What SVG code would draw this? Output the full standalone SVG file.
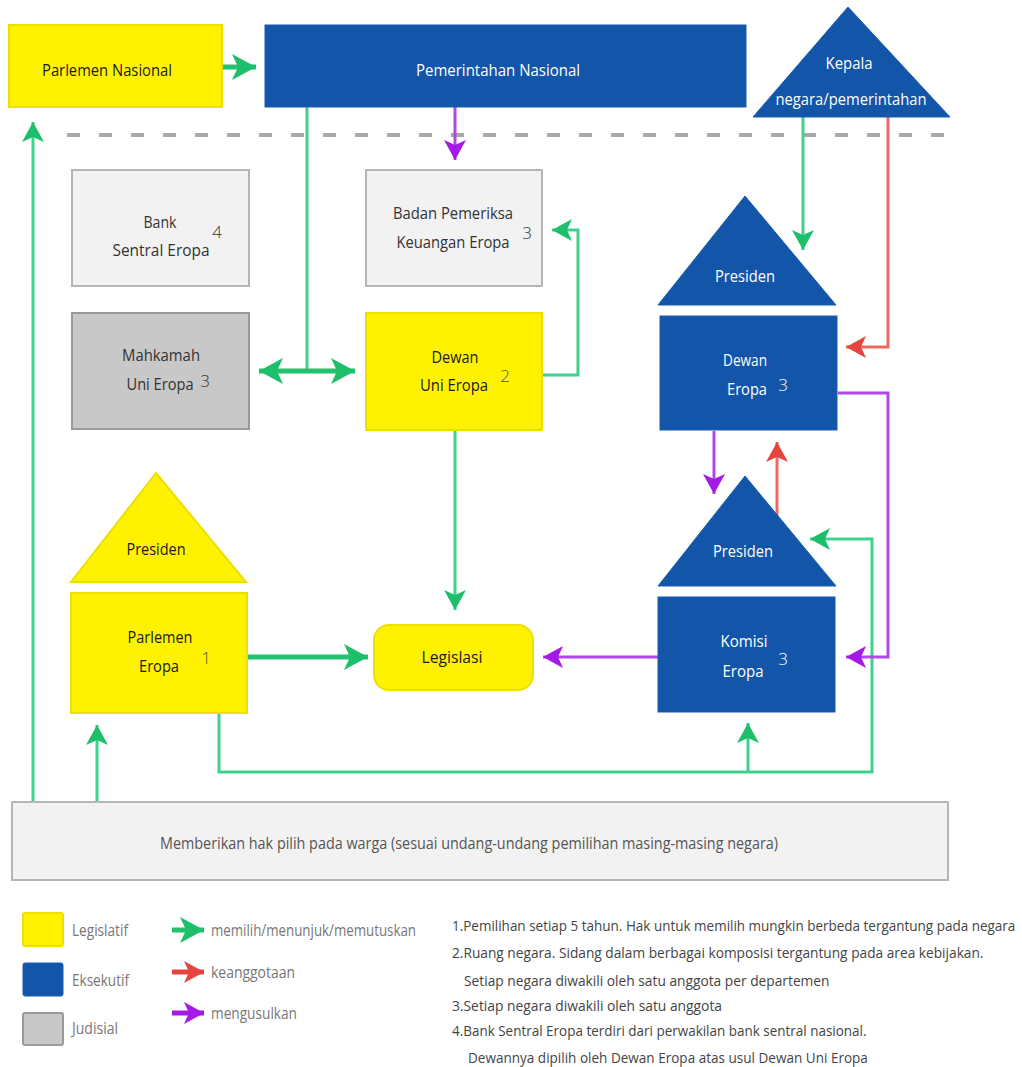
<svg xmlns="http://www.w3.org/2000/svg" width="1022" height="1067" viewBox="0 0 1022 1067">
<defs>
<style>
text{font-family:"Open Sans","Liberation Sans",sans-serif;text-anchor:middle}
.yel{fill:#fff200;stroke:#ece000;stroke-width:2}
.blu{fill:#1355a8;stroke:#1a5cb0;stroke-width:1}
.lgt{fill:#f2f2f2;stroke:#b5b5b5;stroke-width:2}
.jud{fill:#c8c8c8;stroke:#9a9a9a;stroke-width:2}
.tk{fill:#1a1a1a;font-size:16px}
.tw{fill:#ffffff;font-size:16px}
.tg{fill:#333;font-size:16px}
.sup{font-size:17px;font-weight:300}
.g{fill:none;stroke:#3fd18d;stroke-width:3}
.gt{fill:none;stroke:#22c16f;stroke-width:5}
.r{fill:none;stroke:#ec6a62;stroke-width:3}
.p{fill:none;stroke:#b048e8;stroke-width:3}
.leg{fill:#777;font-size:16px;text-anchor:start}
.note{fill:#444;font-size:15px;text-anchor:start}
</style>
<marker id="ag" markerUnits="userSpaceOnUse" markerWidth="22" markerHeight="22" refX="20" refY="11" orient="auto"><path d="M0,0 L20,11 L0,22 L5,11 z" fill="#1dbf6b"/></marker>
<marker id="agb" markerUnits="userSpaceOnUse" markerWidth="26" markerHeight="26" refX="24" refY="13" orient="auto"><path d="M0,0 L24,13 L0,26 L6,13 z" fill="#1dbf6b"/></marker>
<marker id="agbs" markerUnits="userSpaceOnUse" markerWidth="26" markerHeight="26" refX="24" refY="13" orient="auto-start-reverse"><path d="M0,0 L24,13 L0,26 L6,13 z" fill="#1dbf6b"/></marker>
<marker id="ar" markerUnits="userSpaceOnUse" markerWidth="22" markerHeight="22" refX="20" refY="11" orient="auto"><path d="M0,0 L20,11 L0,22 L5,11 z" fill="#e5453e"/></marker>
<marker id="ap" markerUnits="userSpaceOnUse" markerWidth="22" markerHeight="22" refX="20" refY="11" orient="auto"><path d="M0,0 L20,11 L0,22 L5,11 z" fill="#a41ae6"/></marker>
</defs>
<rect width="1022" height="1067" fill="#ffffff"/>

<line x1="67" y1="135" x2="948" y2="135" stroke="#a8a8a8" stroke-width="4" stroke-dasharray="13 19"/>

<g id="connectors">
<line class="gt" x1="223" y1="67" x2="256" y2="67" marker-end="url(#agb)"/>
<line class="p" x1="455" y1="107" x2="455" y2="160" marker-end="url(#ap)"/>
<polyline class="g" points="307,107 307,371"/>
<line class="gt" x1="259" y1="371" x2="355" y2="371" marker-start="url(#agbs)" marker-end="url(#agb)"/>
<polyline class="g" points="543,375 578,375 578,230 552,230" marker-end="url(#ag)"/>
<line class="g" x1="455" y1="430" x2="455" y2="610" marker-end="url(#ag)"/>
<line class="gt" x1="247" y1="657" x2="368" y2="657" marker-end="url(#agb)"/>
<line class="p" x1="658" y1="657" x2="543" y2="657" marker-end="url(#ap)"/>
<polyline class="g" points="219,713 219,772 872,772 872,539 810,539" marker-end="url(#ag)"/>
<line class="g" x1="748" y1="772" x2="748" y2="723" marker-end="url(#ag)"/>
<line class="g" x1="97" y1="801" x2="97" y2="725" marker-end="url(#ag)"/>
<line class="g" x1="33" y1="801" x2="33" y2="122" marker-end="url(#ag)"/>
<line class="g" x1="803" y1="117" x2="803" y2="250" marker-end="url(#ag)"/>
<polyline class="r" points="888,117 888,347 846,347" marker-end="url(#ar)"/>
<polyline class="p" points="838,393 888,393 888,657 846,657" marker-end="url(#ap)"/>
<line class="p" x1="714" y1="431" x2="714" y2="494" marker-end="url(#ap)"/>
<line class="r" x1="777" y1="516" x2="777" y2="442" marker-end="url(#ar)"/>
</g>

<g id="parlemen-nasional">
<rect class="yel" x="9" y="25" width="213" height="82"/>
<text class="tk" x="107" y="76" textLength="130" lengthAdjust="spacingAndGlyphs">Parlemen Nasional</text>
</g>
<g id="pemerintahan-nasional">
<rect class="blu" x="265" y="25" width="481" height="82"/>
<text class="tw" x="498" y="76" textLength="164" lengthAdjust="spacingAndGlyphs">Pemerintahan Nasional</text>
</g>
<g id="kepala-negara">
<polygon class="blu" points="848,7 950,117 753,117"/>
<text class="tw" x="849" y="69" textLength="47" lengthAdjust="spacingAndGlyphs">Kepala</text>
<text class="tw" x="851" y="105" textLength="151" lengthAdjust="spacingAndGlyphs">negara/pemerintahan</text>
</g>

<g id="bank-sentral">
<rect class="lgt" x="72" y="170" width="177" height="116"/>
<text class="tg" x="160" y="228" textLength="33" lengthAdjust="spacingAndGlyphs">Bank</text>
<text class="tg" x="161" y="256" textLength="97" lengthAdjust="spacingAndGlyphs">Sentral Eropa</text>
<text class="tg sup" x="217" y="238">4</text>
</g>
<g id="badan-pemeriksa">
<rect class="lgt" x="366" y="170" width="176" height="116"/>
<text class="tg" x="453" y="219" textLength="120" lengthAdjust="spacingAndGlyphs">Badan Pemeriksa</text>
<text class="tg" x="453" y="248" textLength="113" lengthAdjust="spacingAndGlyphs">Keuangan Eropa</text>
<text class="tg sup" x="527" y="239">3</text>
</g>
<g id="mahkamah">
<rect class="jud" x="72" y="313" width="177" height="116"/>
<text class="tg" x="161" y="361" textLength="78" lengthAdjust="spacingAndGlyphs">Mahkamah</text>
<text class="tg" x="160" y="390" textLength="67" lengthAdjust="spacingAndGlyphs">Uni Eropa</text>
<text class="tg sup" x="205" y="387">3</text>
</g>
<g id="dewan-uni-eropa">
<rect class="yel" x="366" y="313" width="176" height="117"/>
<text class="tk" x="455" y="363" textLength="47" lengthAdjust="spacingAndGlyphs">Dewan</text>
<text class="tk" x="454" y="391" textLength="68" lengthAdjust="spacingAndGlyphs">Uni Eropa</text>
<text class="tk sup" x="505" y="382" style="fill:#555">2</text>
</g>

<g id="dewan-eropa">
<polygon class="blu" points="745,196 836,305 658,305"/>
<text class="tw" x="745" y="282" textLength="60" lengthAdjust="spacingAndGlyphs">Presiden</text>
<rect class="blu" x="660" y="316" width="177" height="114"/>
<text class="tw" x="745" y="366" textLength="44" lengthAdjust="spacingAndGlyphs">Dewan</text>
<text class="tw" x="747" y="395" textLength="40" lengthAdjust="spacingAndGlyphs">Eropa</text>
<text class="tw sup" x="783" y="391">3</text>
</g>

<g id="komisi-eropa">
<polygon class="blu" points="745,476 836,586 658,586"/>
<text class="tw" x="743" y="557" textLength="60" lengthAdjust="spacingAndGlyphs">Presiden</text>
<rect class="blu" x="658" y="597" width="177" height="115"/>
<text class="tw" x="744" y="647" textLength="47" lengthAdjust="spacingAndGlyphs">Komisi</text>
<text class="tw" x="743" y="677" textLength="41" lengthAdjust="spacingAndGlyphs">Eropa</text>
<text class="tw sup" x="783" y="665">3</text>
</g>

<g id="parlemen-eropa">
<polygon class="yel" points="156,473 246,582 71,582"/>
<text class="tk" x="156" y="555" textLength="59" lengthAdjust="spacingAndGlyphs">Presiden</text>
<rect class="yel" x="71" y="593" width="176" height="120"/>
<text class="tk" x="160" y="643" textLength="65" lengthAdjust="spacingAndGlyphs">Parlemen</text>
<text class="tk" x="159" y="672" textLength="40" lengthAdjust="spacingAndGlyphs">Eropa</text>
<text class="tk sup" x="206" y="664" style="fill:#555">1</text>
</g>

<g id="legislasi">
<rect class="yel" x="374" y="625" width="159" height="65" rx="15" ry="15"/>
<text class="tk" x="452" y="663" textLength="61" lengthAdjust="spacingAndGlyphs">Legislasi</text>
</g>

<g id="warga">
<rect class="lgt" x="12" y="802" width="936" height="78"/>
<text x="469" y="849" style="fill:#555;font-size:16px" textLength="618" lengthAdjust="spacingAndGlyphs">Memberikan hak pilih pada warga (sesuai undang-undang pemilihan masing-masing negara)</text>
</g>

<g id="legend">
<rect class="yel" x="23" y="913" width="40" height="33" rx="2"/>
<rect class="blu" x="23" y="963" width="40" height="33" rx="2"/>
<rect class="jud" x="23" y="1013" width="40" height="32" rx="2"/>
<text class="leg" x="72" y="936" textLength="56" lengthAdjust="spacingAndGlyphs">Legislatif</text>
<text class="leg" x="72" y="986" textLength="57" lengthAdjust="spacingAndGlyphs">Eksekutif</text>
<text class="leg" x="72" y="1034" textLength="46" lengthAdjust="spacingAndGlyphs">Judisial</text>
<line class="gt" x1="172" y1="930" x2="204" y2="930" marker-end="url(#agb)"/>
<line style="fill:none;stroke:#e5453e;stroke-width:5" x1="172" y1="972" x2="204" y2="972" marker-end="url(#ar)"/>
<line style="fill:none;stroke:#a41ae6;stroke-width:5" x1="172" y1="1013" x2="204" y2="1013" marker-end="url(#ap)"/>
<text class="leg" x="211" y="936" textLength="205" lengthAdjust="spacingAndGlyphs">memilih/menunjuk/memutuskan</text>
<text class="leg" x="211" y="978" textLength="84" lengthAdjust="spacingAndGlyphs">keanggotaan</text>
<text class="leg" x="211" y="1019" textLength="86" lengthAdjust="spacingAndGlyphs">mengusulkan</text>
</g>

<g id="notes">
<text class="note" transform="translate(452,931) scale(0.86,1)" x="0" y="0" textLength="655" lengthAdjust="spacingAndGlyphs">1.Pemilihan setiap 5 tahun. Hak untuk memilih mungkin berbeda tergantung pada negara</text>
<text class="note" transform="translate(452,958) scale(0.86,1)" x="0" y="0" textLength="618" lengthAdjust="spacingAndGlyphs">2.Ruang negara. Sidang dalam berbagai komposisi tergantung pada area kebijakan.</text>
<text class="note" transform="translate(464,986) scale(0.86,1)" x="0" y="0" textLength="425" lengthAdjust="spacingAndGlyphs">Setiap negara diwakili oleh satu anggota per departemen</text>
<text class="note" transform="translate(452,1011) scale(0.86,1)" x="0" y="0" textLength="314" lengthAdjust="spacingAndGlyphs">3.Setiap negara diwakili oleh satu anggota</text>
<text class="note" transform="translate(452,1036) scale(0.86,1)" x="0" y="0" textLength="482" lengthAdjust="spacingAndGlyphs">4.Bank Sentral Eropa terdiri dari perwakilan bank sentral nasional.</text>
<text class="note" transform="translate(468,1063) scale(0.86,1)" x="0" y="0" textLength="465" lengthAdjust="spacingAndGlyphs">Dewannya dipilih oleh Dewan Eropa atas usul Dewan Uni Eropa</text>
</g>
</svg>
